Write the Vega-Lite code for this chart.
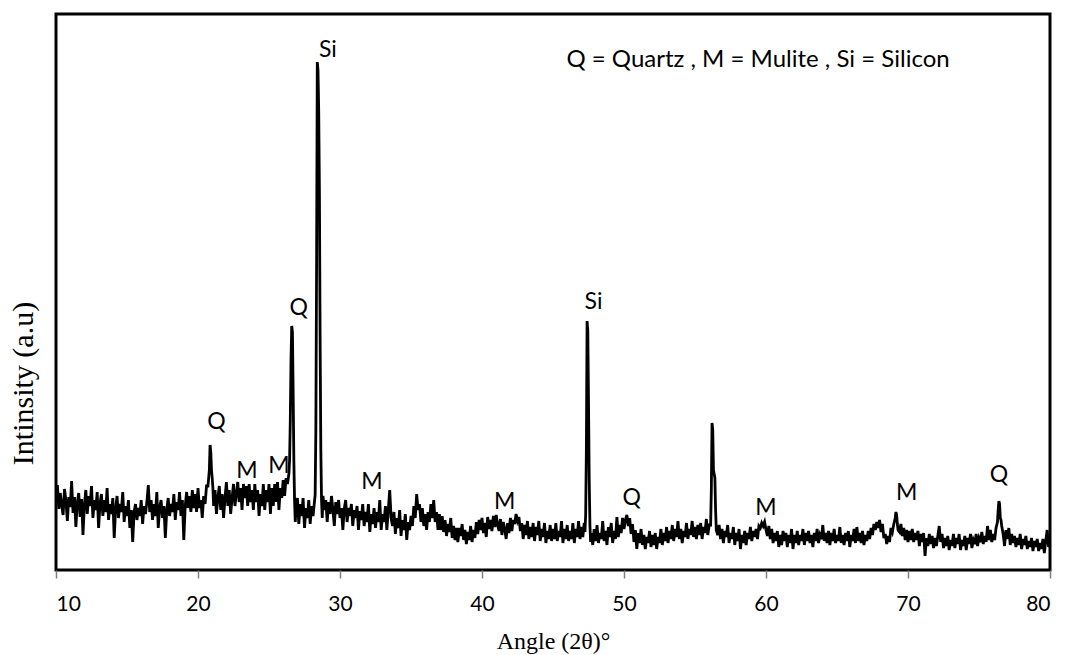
{
  "$schema": "https://vega.github.io/schema/vega-lite/v6.json",
  "width": 994,
  "height": 556,
  "autosize": "none",
  "padding": {"left": 56, "top": 14, "right": 16, "bottom": 85},
  "background": "white",
  "config": {
    "view": {"stroke": "black", "strokeWidth": 3},
    "axis": {"grid": false}
  },
  "datasets": {
    "xrd": [
      {"a":10.0,"i":73},{"a":10.1,"i":85},{"a":10.2,"i":61},{"a":10.3,"i":77},{"a":10.4,"i":65},{"a":10.5,"i":55},{"a":10.6,"i":81},{"a":10.7,"i":69},{"a":10.8,"i":49},{"a":10.9,"i":73},
      {"a":11.0,"i":63},{"a":11.1,"i":89},{"a":11.2,"i":57},{"a":11.3,"i":73},{"a":11.4,"i":43},{"a":11.5,"i":67},{"a":11.6,"i":77},{"a":11.7,"i":53},{"a":11.8,"i":71},{"a":11.9,"i":35},
      {"a":12.0,"i":65},{"a":12.1,"i":80},{"a":12.2,"i":56},{"a":12.3,"i":74},{"a":12.4,"i":64},{"a":12.5,"i":84},{"a":12.6,"i":52},{"a":12.7,"i":70},{"a":12.8,"i":60},{"a":12.9,"i":78},
      {"a":13.0,"i":42},{"a":13.1,"i":66},{"a":13.2,"i":76},{"a":13.3,"i":54},{"a":13.4,"i":70},{"a":13.5,"i":58},{"a":13.6,"i":82},{"a":13.7,"i":50},{"a":13.8,"i":66},{"a":13.9,"i":56},
      {"a":14.0,"i":72},{"a":14.1,"i":32},{"a":14.2,"i":62},{"a":14.3,"i":74},{"a":14.4,"i":52},{"a":14.5,"i":66},{"a":14.6,"i":58},{"a":14.7,"i":78},{"a":14.8,"i":48},{"a":14.9,"i":64},
      {"a":15.0,"i":54},{"a":15.1,"i":70},{"a":15.2,"i":42},{"a":15.3,"i":60},{"a":15.4,"i":28},{"a":15.5,"i":58},{"a":15.6,"i":66},{"a":15.7,"i":50},{"a":15.8,"i":62},{"a":15.9,"i":54},
      {"a":16.0,"i":70},{"a":16.1,"i":46},{"a":16.2,"i":64},{"a":16.3,"i":56},{"a":16.4,"i":68},{"a":16.5,"i":85},{"a":16.6,"i":58},{"a":16.7,"i":70},{"a":16.8,"i":50},{"a":16.9,"i":66},
      {"a":17.0,"i":54},{"a":17.1,"i":78},{"a":17.2,"i":42},{"a":17.3,"i":62},{"a":17.4,"i":70},{"a":17.5,"i":52},{"a":17.6,"i":64},{"a":17.7,"i":32},{"a":17.8,"i":60},{"a":17.9,"i":72},
      {"a":18.0,"i":54},{"a":18.1,"i":66},{"a":18.2,"i":58},{"a":18.3,"i":76},{"a":18.4,"i":50},{"a":18.5,"i":68},{"a":18.6,"i":60},{"a":18.7,"i":78},{"a":18.8,"i":54},{"a":18.9,"i":70},
      {"a":19.0,"i":30},{"a":19.1,"i":64},{"a":19.2,"i":78},{"a":19.3,"i":62},{"a":19.4,"i":74},{"a":19.5,"i":58},{"a":19.6,"i":80},{"a":19.7,"i":62},{"a":19.8,"i":76},{"a":19.9,"i":58},
      {"a":20.0,"i":82},{"a":20.1,"i":62},{"a":20.2,"i":70},{"a":20.3,"i":52},{"a":20.4,"i":74},{"a":20.5,"i":66},{"a":20.6,"i":84},{"a":20.7,"i":84},{"a":20.8,"i":100},{"a":20.85,"i":125},{"a":20.9,"i":118},{"a":20.95,"i":100},
      {"a":21.0,"i":92},{"a":21.05,"i":82},{"a":21.1,"i":64},{"a":21.2,"i":80},{"a":21.3,"i":56},{"a":21.4,"i":72},{"a":21.5,"i":84},{"a":21.6,"i":60},{"a":21.7,"i":76},{"a":21.8,"i":52},{"a":21.9,"i":72},
      {"a":22.0,"i":88},{"a":22.1,"i":64},{"a":22.2,"i":80},{"a":22.3,"i":56},{"a":22.4,"i":72},{"a":22.5,"i":86},{"a":22.6,"i":64},{"a":22.7,"i":76},{"a":22.8,"i":88},{"a":22.9,"i":68},
      {"a":23.0,"i":82},{"a":23.1,"i":60},{"a":23.2,"i":86},{"a":23.3,"i":72},{"a":23.4,"i":84},{"a":23.5,"i":64},{"a":23.6,"i":86},{"a":23.7,"i":68},{"a":23.8,"i":80},{"a":23.9,"i":60},
      {"a":24.0,"i":86},{"a":24.1,"i":68},{"a":24.2,"i":80},{"a":24.3,"i":54},{"a":24.4,"i":76},{"a":24.5,"i":64},{"a":24.6,"i":86},{"a":24.7,"i":60},{"a":24.8,"i":80},{"a":24.9,"i":68},
      {"a":25.0,"i":86},{"a":25.1,"i":56},{"a":25.2,"i":82},{"a":25.3,"i":64},{"a":25.4,"i":86},{"a":25.5,"i":68},{"a":25.6,"i":88},{"a":25.7,"i":60},{"a":25.8,"i":82},{"a":25.9,"i":72},
      {"a":26.0,"i":90},{"a":26.1,"i":74},{"a":26.2,"i":92},{"a":26.3,"i":86},{"a":26.4,"i":96},{"a":26.45,"i":110},{"a":26.5,"i":150},{"a":26.55,"i":210},{"a":26.6,"i":244},{"a":26.65,"i":238},{"a":26.7,"i":180},{"a":26.75,"i":110},{"a":26.8,"i":70},{"a":26.85,"i":48},{"a":26.9,"i":60},
      {"a":27.0,"i":72},{"a":27.1,"i":46},{"a":27.2,"i":66},{"a":27.3,"i":54},{"a":27.4,"i":72},{"a":27.5,"i":42},{"a":27.6,"i":62},{"a":27.7,"i":52},{"a":27.8,"i":70},{"a":27.9,"i":46},
      {"a":28.0,"i":64},{"a":28.1,"i":54},{"a":28.2,"i":68},{"a":28.25,"i":75},{"a":28.3,"i":140},{"a":28.35,"i":300},{"a":28.4,"i":508},{"a":28.45,"i":500},{"a":28.5,"i":460},{"a":28.55,"i":380},{"a":28.6,"i":230},{"a":28.65,"i":120},{"a":28.7,"i":70},{"a":28.75,"i":52},{"a":28.8,"i":74},{"a":28.9,"i":60},
      {"a":29.0,"i":70},{"a":29.1,"i":48},{"a":29.2,"i":68},{"a":29.3,"i":56},{"a":29.4,"i":74},{"a":29.5,"i":60},{"a":29.6,"i":44},{"a":29.7,"i":68},{"a":29.8,"i":56},{"a":29.9,"i":70},
      {"a":30.0,"i":52},{"a":30.1,"i":62},{"a":30.2,"i":40},{"a":30.3,"i":61},{"a":30.4,"i":70},{"a":30.5,"i":48},{"a":30.6,"i":62},{"a":30.7,"i":54},{"a":30.8,"i":66},{"a":30.9,"i":44},
      {"a":31.0,"i":60},{"a":31.1,"i":52},{"a":31.2,"i":64},{"a":31.3,"i":40},{"a":31.4,"i":59},{"a":31.5,"i":50},{"a":31.6,"i":66},{"a":31.7,"i":44},{"a":31.8,"i":58},{"a":31.9,"i":48},
      {"a":32.0,"i":66},{"a":32.1,"i":38},{"a":32.2,"i":56},{"a":32.3,"i":46},{"a":32.4,"i":62},{"a":32.5,"i":42},{"a":32.6,"i":58},{"a":32.7,"i":48},{"a":32.8,"i":70},{"a":32.9,"i":40},
      {"a":33.0,"i":56},{"a":33.1,"i":48},{"a":33.2,"i":64},{"a":33.3,"i":40},{"a":33.4,"i":60},{"a":33.5,"i":80},{"a":33.6,"i":52},{"a":33.7,"i":44},{"a":33.8,"i":58},{"a":33.9,"i":36},
      {"a":34.0,"i":52},{"a":34.1,"i":42},{"a":34.2,"i":60},{"a":34.3,"i":34},{"a":34.4,"i":50},{"a":34.5,"i":40},{"a":34.6,"i":56},{"a":34.7,"i":30},{"a":34.8,"i":48},{"a":34.9,"i":40},
      {"a":35.0,"i":54},{"a":35.1,"i":44},{"a":35.2,"i":64},{"a":35.3,"i":52},{"a":35.4,"i":76},{"a":35.5,"i":60},{"a":35.6,"i":66},{"a":35.7,"i":48},{"a":35.8,"i":62},{"a":35.9,"i":44},
      {"a":36.0,"i":56},{"a":36.1,"i":40},{"a":36.2,"i":58},{"a":36.3,"i":48},{"a":36.4,"i":66},{"a":36.5,"i":52},{"a":36.6,"i":70},{"a":36.7,"i":48},{"a":36.8,"i":58},{"a":36.9,"i":40},
      {"a":37.0,"i":56},{"a":37.1,"i":40},{"a":37.2,"i":54},{"a":37.3,"i":38},{"a":37.4,"i":50},{"a":37.5,"i":34},{"a":37.6,"i":46},{"a":37.7,"i":38},{"a":37.8,"i":52},{"a":37.9,"i":32},
      {"a":38.0,"i":44},{"a":38.1,"i":30},{"a":38.2,"i":42},{"a":38.3,"i":28},{"a":38.4,"i":42},{"a":38.5,"i":34},{"a":38.6,"i":46},{"a":38.7,"i":30},{"a":38.8,"i":40},{"a":38.9,"i":26},
      {"a":39.0,"i":38},{"a":39.1,"i":30},{"a":39.2,"i":44},{"a":39.3,"i":28},{"a":39.4,"i":40},{"a":39.5,"i":32},{"a":39.6,"i":48},{"a":39.7,"i":36},{"a":39.8,"i":50},{"a":39.9,"i":40},
      {"a":40.0,"i":52},{"a":40.1,"i":37},{"a":40.2,"i":47},{"a":40.3,"i":33},{"a":40.4,"i":53},{"a":40.5,"i":41},{"a":40.6,"i":50},{"a":40.7,"i":39},{"a":40.8,"i":54},{"a":40.9,"i":43},
      {"a":41.0,"i":55},{"a":41.1,"i":45},{"a":41.2,"i":39},{"a":41.3,"i":51},{"a":41.4,"i":35},{"a":41.5,"i":48},{"a":41.6,"i":41},{"a":41.7,"i":31},{"a":41.8,"i":47},{"a":41.9,"i":37},
      {"a":42.0,"i":52},{"a":42.1,"i":39},{"a":42.2,"i":50},{"a":42.3,"i":46},{"a":42.4,"i":56},{"a":42.5,"i":49},{"a":42.6,"i":53},{"a":42.7,"i":39},{"a":42.8,"i":47},{"a":42.9,"i":31},
      {"a":43.0,"i":45},{"a":43.1,"i":35},{"a":43.2,"i":49},{"a":43.3,"i":31},{"a":43.4,"i":43},{"a":43.5,"i":33},{"a":43.6,"i":47},{"a":43.7,"i":29},{"a":43.8,"i":43},{"a":43.9,"i":35},
      {"a":44.0,"i":49},{"a":44.1,"i":29},{"a":44.2,"i":41},{"a":44.3,"i":33},{"a":44.4,"i":47},{"a":44.5,"i":27},{"a":44.6,"i":39},{"a":44.7,"i":31},{"a":44.8,"i":45},{"a":44.9,"i":29},
      {"a":45.0,"i":41},{"a":45.1,"i":31},{"a":45.2,"i":47},{"a":45.3,"i":29},{"a":45.4,"i":39},{"a":45.5,"i":33},{"a":45.6,"i":49},{"a":45.7,"i":27},{"a":45.8,"i":41},{"a":45.9,"i":31},
      {"a":46.0,"i":45},{"a":46.1,"i":29},{"a":46.2,"i":39},{"a":46.3,"i":31},{"a":46.4,"i":47},{"a":46.5,"i":27},{"a":46.6,"i":41},{"a":46.7,"i":33},{"a":46.8,"i":49},{"a":46.9,"i":31},
      {"a":47.0,"i":43},{"a":47.1,"i":33},{"a":47.2,"i":47},{"a":47.25,"i":38},{"a":47.3,"i":55},{"a":47.35,"i":120},{"a":47.4,"i":249},{"a":47.45,"i":240},{"a":47.5,"i":170},{"a":47.55,"i":90},{"a":47.6,"i":45},{"a":47.65,"i":28},{"a":47.7,"i":37},{"a":47.8,"i":25},{"a":47.9,"i":41},
      {"a":48.0,"i":29},{"a":48.1,"i":45},{"a":48.2,"i":27},{"a":48.3,"i":37},{"a":48.4,"i":31},{"a":48.5,"i":49},{"a":48.6,"i":29},{"a":48.7,"i":39},{"a":48.8,"i":25},{"a":48.9,"i":43},
      {"a":49.0,"i":33},{"a":49.1,"i":47},{"a":49.2,"i":27},{"a":49.3,"i":39},{"a":49.4,"i":31},{"a":49.5,"i":53},{"a":49.6,"i":33},{"a":49.7,"i":45},{"a":49.8,"i":37},{"a":49.9,"i":52},
      {"a":50.0,"i":41},{"a":50.1,"i":50},{"a":50.2,"i":55},{"a":50.3,"i":44},{"a":50.4,"i":52},{"a":50.5,"i":36},{"a":50.6,"i":46},{"a":50.7,"i":28},{"a":50.8,"i":40},{"a":50.9,"i":21},
      {"a":51.0,"i":37},{"a":51.1,"i":27},{"a":51.2,"i":41},{"a":51.3,"i":25},{"a":51.4,"i":35},{"a":51.5,"i":21},{"a":51.6,"i":33},{"a":51.7,"i":27},{"a":51.8,"i":39},{"a":51.9,"i":23},
      {"a":52.0,"i":35},{"a":52.1,"i":25},{"a":52.2,"i":37},{"a":52.3,"i":21},{"a":52.4,"i":33},{"a":52.5,"i":27},{"a":52.6,"i":41},{"a":52.7,"i":25},{"a":52.8,"i":37},{"a":52.9,"i":29},
      {"a":53.0,"i":43},{"a":53.1,"i":27},{"a":53.2,"i":39},{"a":53.3,"i":31},{"a":53.4,"i":45},{"a":53.5,"i":29},{"a":53.6,"i":41},{"a":53.7,"i":33},{"a":53.8,"i":49},{"a":53.9,"i":31},
      {"a":54.0,"i":41},{"a":54.1,"i":27},{"a":54.2,"i":39},{"a":54.3,"i":33},{"a":54.4,"i":47},{"a":54.5,"i":31},{"a":54.6,"i":41},{"a":54.7,"i":35},{"a":54.8,"i":49},{"a":54.9,"i":33},
      {"a":55.0,"i":43},{"a":55.1,"i":31},{"a":55.2,"i":45},{"a":55.3,"i":35},{"a":55.4,"i":47},{"a":55.5,"i":31},{"a":55.6,"i":43},{"a":55.7,"i":37},{"a":55.8,"i":51},{"a":55.9,"i":35},
      {"a":56.0,"i":45},{"a":56.1,"i":45},{"a":56.15,"i":80},{"a":56.2,"i":147},{"a":56.25,"i":140},{"a":56.3,"i":100},{"a":56.35,"i":96},{"a":56.4,"i":92},{"a":56.45,"i":60},{"a":56.5,"i":40},{"a":56.6,"i":35},{"a":56.7,"i":45},{"a":56.8,"i":31},{"a":56.9,"i":41},
      {"a":57.0,"i":27},{"a":57.1,"i":39},{"a":57.2,"i":33},{"a":57.3,"i":45},{"a":57.4,"i":27},{"a":57.5,"i":37},{"a":57.6,"i":31},{"a":57.7,"i":43},{"a":57.8,"i":25},{"a":57.9,"i":37},
      {"a":58.0,"i":29},{"a":58.1,"i":41},{"a":58.2,"i":21},{"a":58.3,"i":35},{"a":58.4,"i":27},{"a":58.5,"i":39},{"a":58.6,"i":25},{"a":58.7,"i":37},{"a":58.8,"i":31},{"a":58.9,"i":43},
      {"a":59.0,"i":29},{"a":59.1,"i":39},{"a":59.2,"i":33},{"a":59.3,"i":41},{"a":59.4,"i":31},{"a":59.5,"i":44},{"a":59.6,"i":42},{"a":59.7,"i":47},{"a":59.8,"i":44},{"a":59.9,"i":48},
      {"a":60.0,"i":40},{"a":60.1,"i":34},{"a":60.2,"i":44},{"a":60.3,"i":31},{"a":60.4,"i":41},{"a":60.5,"i":27},{"a":60.6,"i":37},{"a":60.7,"i":29},{"a":60.8,"i":39},{"a":60.9,"i":23},
      {"a":61.0,"i":35},{"a":61.1,"i":25},{"a":61.2,"i":39},{"a":61.3,"i":29},{"a":61.4,"i":37},{"a":61.5,"i":23},{"a":61.6,"i":35},{"a":61.7,"i":27},{"a":61.8,"i":41},{"a":61.9,"i":21},
      {"a":62.0,"i":35},{"a":62.1,"i":27},{"a":62.2,"i":39},{"a":62.3,"i":25},{"a":62.4,"i":35},{"a":62.5,"i":29},{"a":62.6,"i":41},{"a":62.7,"i":25},{"a":62.8,"i":37},{"a":62.9,"i":29},
      {"a":63.0,"i":39},{"a":63.1,"i":27},{"a":63.2,"i":35},{"a":63.3,"i":23},{"a":63.4,"i":37},{"a":63.5,"i":29},{"a":63.6,"i":41},{"a":63.7,"i":27},{"a":63.8,"i":35},{"a":63.9,"i":31},
      {"a":64.0,"i":45},{"a":64.1,"i":29},{"a":64.2,"i":37},{"a":64.3,"i":27},{"a":64.4,"i":39},{"a":64.5,"i":25},{"a":64.6,"i":37},{"a":64.7,"i":29},{"a":64.8,"i":41},{"a":64.9,"i":27},
      {"a":65.0,"i":35},{"a":65.1,"i":29},{"a":65.2,"i":43},{"a":65.3,"i":27},{"a":65.4,"i":35},{"a":65.5,"i":25},{"a":65.6,"i":37},{"a":65.7,"i":29},{"a":65.8,"i":39},{"a":65.9,"i":23},
      {"a":66.0,"i":35},{"a":66.1,"i":29},{"a":66.2,"i":41},{"a":66.3,"i":27},{"a":66.4,"i":43},{"a":66.5,"i":29},{"a":66.6,"i":37},{"a":66.7,"i":27},{"a":66.8,"i":39},{"a":66.9,"i":25},
      {"a":67.0,"i":35},{"a":67.1,"i":29},{"a":67.2,"i":39},{"a":67.3,"i":31},{"a":67.4,"i":42},{"a":67.5,"i":35},{"a":67.6,"i":46},{"a":67.7,"i":40},{"a":67.8,"i":48},{"a":67.9,"i":42},
      {"a":68.0,"i":50},{"a":68.1,"i":38},{"a":68.2,"i":46},{"a":68.3,"i":32},{"a":68.4,"i":36},{"a":68.5,"i":26},{"a":68.6,"i":34},{"a":68.7,"i":28},{"a":68.8,"i":42},{"a":68.9,"i":38},
      {"a":69.0,"i":46},{"a":69.1,"i":52},{"a":69.15,"i":58},{"a":69.2,"i":55},{"a":69.25,"i":46},{"a":69.3,"i":40},{"a":69.4,"i":38},{"a":69.5,"i":46},{"a":69.6,"i":34},{"a":69.7,"i":42},{"a":69.8,"i":30},{"a":69.9,"i":40},
      {"a":70.0,"i":28},{"a":70.1,"i":39},{"a":70.2,"i":30},{"a":70.3,"i":41},{"a":70.4,"i":28},{"a":70.5,"i":37},{"a":70.6,"i":30},{"a":70.7,"i":39},{"a":70.8,"i":24},{"a":70.9,"i":36},
      {"a":71.0,"i":28},{"a":71.1,"i":37},{"a":71.2,"i":14},{"a":71.3,"i":32},{"a":71.4,"i":24},{"a":71.5,"i":36},{"a":71.6,"i":26},{"a":71.7,"i":34},{"a":71.8,"i":22},{"a":71.9,"i":32},
      {"a":72.0,"i":24},{"a":72.1,"i":34},{"a":72.2,"i":44},{"a":72.3,"i":28},{"a":72.4,"i":36},{"a":72.5,"i":22},{"a":72.6,"i":32},{"a":72.7,"i":24},{"a":72.8,"i":34},{"a":72.9,"i":20},
      {"a":73.0,"i":30},{"a":73.1,"i":24},{"a":73.2,"i":36},{"a":73.3,"i":22},{"a":73.4,"i":32},{"a":73.5,"i":26},{"a":73.6,"i":36},{"a":73.7,"i":20},{"a":73.8,"i":30},{"a":73.9,"i":24},
      {"a":74.0,"i":34},{"a":74.1,"i":20},{"a":74.2,"i":32},{"a":74.3,"i":26},{"a":74.4,"i":36},{"a":74.5,"i":22},{"a":74.6,"i":30},{"a":74.7,"i":26},{"a":74.8,"i":36},{"a":74.9,"i":24},
      {"a":75.0,"i":32},{"a":75.1,"i":28},{"a":75.2,"i":38},{"a":75.3,"i":26},{"a":75.4,"i":34},{"a":75.5,"i":28},{"a":75.6,"i":44},{"a":75.7,"i":30},{"a":75.8,"i":40},{"a":75.9,"i":28},
      {"a":76.0,"i":36},{"a":76.1,"i":30},{"a":76.2,"i":42},{"a":76.3,"i":48},{"a":76.35,"i":60},{"a":76.4,"i":69},{"a":76.45,"i":66},{"a":76.5,"i":52},{"a":76.55,"i":50},{"a":76.6,"i":44},{"a":76.7,"i":36},{"a":76.8,"i":24},{"a":76.9,"i":40},
      {"a":77.0,"i":31},{"a":77.1,"i":42},{"a":77.2,"i":25},{"a":77.3,"i":36},{"a":77.4,"i":27},{"a":77.5,"i":34},{"a":77.6,"i":23},{"a":77.7,"i":32},{"a":77.8,"i":25},{"a":77.9,"i":36},
      {"a":78.0,"i":21},{"a":78.1,"i":31},{"a":78.2,"i":25},{"a":78.3,"i":34},{"a":78.4,"i":21},{"a":78.5,"i":29},{"a":78.6,"i":23},{"a":78.7,"i":32},{"a":78.8,"i":19},{"a":78.9,"i":29},
      {"a":79.0,"i":23},{"a":79.1,"i":31},{"a":79.2,"i":19},{"a":79.3,"i":27},{"a":79.4,"i":21},{"a":79.5,"i":31},{"a":79.6,"i":17},{"a":79.7,"i":29},{"a":79.8,"i":40},{"a":79.9,"i":23},{"a":80.0,"i":27}
    ],
    "labels": [
      {"a":29.15,"i":520,"t":"Si"},
      {"a":21.3,"i":148,"t":"Q"},
      {"a":23.45,"i":99,"t":"M"},
      {"a":25.7,"i":104,"t":"M"},
      {"a":27.1,"i":262,"t":"Q"},
      {"a":32.25,"i":88,"t":"M"},
      {"a":41.6,"i":68,"t":"M"},
      {"a":47.85,"i":268,"t":"Si"},
      {"a":50.55,"i":72,"t":"Q"},
      {"a":60.0,"i":62,"t":"M"},
      {"a":69.9,"i":77,"t":"M"},
      {"a":76.4,"i":95,"t":"Q"}
    ],
    "legend": [
      {"a":59.44,"i":510,"t":"Q = Quartz , M = Mulite , Si = Silicon"}
    ]
  },
  "layer": [
    {
      "data": {"name": "xrd"},
      "mark": {"type": "line", "color": "black", "strokeWidth": 2.8, "clip": true},
      "encoding": {
        "x": {
          "field": "a", "type": "quantitative",
          "scale": {"domain": [10, 80], "nice": false},
          "axis": {
            "values": [10, 20, 30, 40, 50, 60, 70, 80],
            "domain": false,
            "ticks": true, "tickColor": "#808080", "tickSize": 8, "tickWidth": 1.5,
            "labelFont": "Lato", "labelFontSize": 21, "labelColor": "black", "labelPadding": 15,
            "title": "Angle (2θ)°",
            "titleFont": "Liberation Serif", "titleFontSize": 24, "titleFontWeight": "normal", "titleColor": "black",
            "titleY": 78, "titleBaseline": "alphabetic"
          }
        },
        "y": {
          "field": "i", "type": "quantitative",
          "scale": {"domain": [0, 556], "nice": false},
          "axis": {
            "labels": false, "ticks": false, "domain": false,
            "title": "Intinsity (a.u)",
            "titleFont": "Liberation Serif", "titleFontSize": 30, "titleFontWeight": "normal", "titleColor": "black",
            "titleX": -24, "titleY": 369, "titleBaseline": "alphabetic"
          }
        }
      }
    },
    {
      "data": {"name": "labels"},
      "mark": {"type": "text", "font": "Lato", "fontSize": 23, "color": "black", "align": "center", "baseline": "middle"},
      "encoding": {
        "x": {"field": "a", "type": "quantitative"},
        "y": {"field": "i", "type": "quantitative"},
        "text": {"field": "t"}
      }
    },
    {
      "data": {"name": "legend"},
      "mark": {"type": "text", "font": "Lato", "fontSize": 24, "color": "black", "align": "center", "baseline": "middle"},
      "encoding": {
        "x": {"field": "a", "type": "quantitative"},
        "y": {"field": "i", "type": "quantitative"},
        "text": {"field": "t"}
      }
    }
  ]
}
